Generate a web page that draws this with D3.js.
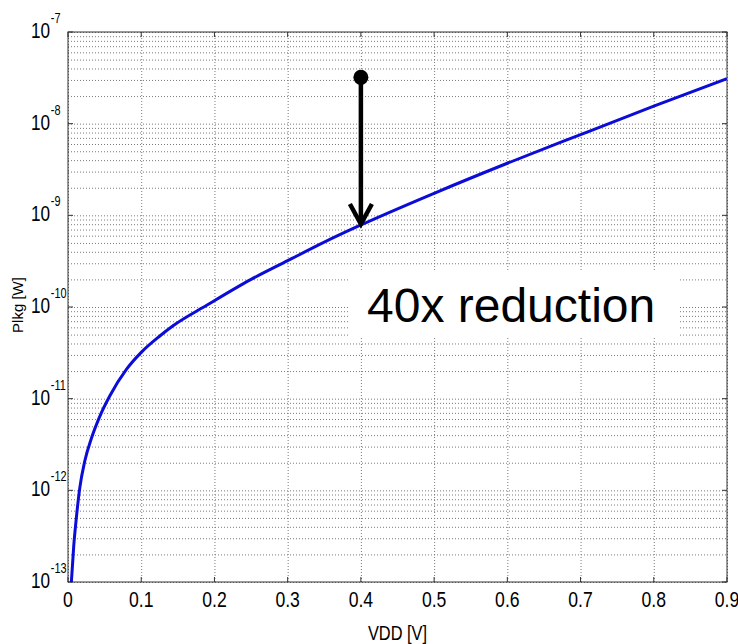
<!DOCTYPE html>
<html>
<head>
<meta charset="utf-8">
<script src="https://cdnjs.cloudflare.com/ajax/libs/d3/7.8.5/d3.min.js"></script>
<style>
	body { margin: 0; background: #fff; }
	svg { display: block; font-family: "Liberation Sans", Arial, sans-serif; }
	.grid line { stroke: #7a7a7a; stroke-dasharray: 1,2; }
	.grid path { display: none; }
</style>
</head>
<body>
<div id="graph"></div>
<script>
//leakage power against supply voltage
var vdd  = [0.0046, 0.0078, 0.0115, 0.016, 0.023, 0.032, 0.043, 0.057, 0.080, 0.100, 0.125, 0.143, 0.19, 0.25, 0.30, 0.35, 0.40, 0.50, 0.60, 0.70, 0.80, 0.90];
var plkg = [1.0e-13, 2.45e-13, 5.1e-13, 1.05e-12, 2.1e-12, 3.7e-12, 6.3e-12, 1.07e-11, 2.1e-11, 3.2e-11, 4.8e-11, 6.2e-11, 1.05e-10, 2.0e-10, 3.2e-10, 5.1e-10, 7.85e-10, 1.74e-9, 3.7e-9, 7.6e-9, 1.55e-8, 3.1e-8];

var xTicks = [0, 0.1, 0.2, 0.3, 0.4, 0.5, 0.6, 0.7, 0.8, 0.9];
var yExponents = [-7, -8, -9, -10, -11, -12, -13];

//the arrow drawn at 0.4 V
var arrowV = 0.4;
var arrowFrom = 3.2e-8;
var arrowTo = 7.85e-10;
var noteText = "40x reduction";

var xLabel = "VDD [V]";
var yLabel = "Plkg [W]";

(function(){
	"use strict";

	var margin = {top: 32, right: 11, bottom: 62, left: 68};
	var width = 738 - margin.left - margin.right;
	var height = 644 - margin.top - margin.bottom;

	var svg = d3.select("#graph").append("svg")
		.attr("width", 738)
		.attr("height", 644);
	var g = svg.append("g").attr("transform", "translate(" + margin.left + "," + margin.top + ")");

	var x = d3.scaleLinear().domain([0, 0.9]).range([0, width]);
	var y = d3.scaleLog().domain([1e-13, 1e-7]).range([height, 0]);

	//minor grid values, 2..9 times each decade
	var minor = [];
	yExponents.forEach(function(e) {
		if (e === -7) return;
		for (var m = 2; m < 10; m++) minor.push(m * Math.pow(10, e));
	});
	var decades = yExponents.map(function(e) { return Math.pow(10, e); });

	//dotted grid lines
	g.append("g").attr("class", "grid")
		.call(d3.axisLeft(y).tickValues(minor.concat(decades)).tickSize(-width).tickFormat(""));
	g.append("g").attr("class", "grid")
		.attr("transform", "translate(0," + height + ")")
		.call(d3.axisBottom(x).tickValues(xTicks).tickSize(-height).tickFormat(""));

	//box round the plot
	g.append("rect")
		.attr("width", width)
		.attr("height", height)
		.attr("fill", "none")
		.attr("stroke", "#333")
		.attr("stroke-width", 1);

	//inward tick marks on all four sides
	var tk = 5;
	xTicks.forEach(function(v) {
		g.append("line").attr("x1", x(v)).attr("x2", x(v)).attr("y1", height).attr("y2", height - tk).attr("stroke", "#333");
		g.append("line").attr("x1", x(v)).attr("x2", x(v)).attr("y1", 0).attr("y2", tk).attr("stroke", "#333");
	});
	decades.forEach(function(v) {
		g.append("line").attr("x1", 0).attr("x2", tk).attr("y1", y(v)).attr("y2", y(v)).attr("stroke", "#333");
		g.append("line").attr("x1", width).attr("x2", width - tk).attr("y1", y(v)).attr("y2", y(v)).attr("stroke", "#333");
	});

	//x tick labels, a bit narrow like the original
	xTicks.forEach(function(v) {
		g.append("g")
			.attr("transform", "translate(" + x(v) + "," + (height + 25) + ") scale(0.8,1)")
			.append("text")
			.attr("text-anchor", "middle")
			.attr("font-size", "22px")
			.attr("fill", "#000")
			.text(v === 0 ? "0" : d3.format(".1f")(v));
	});

	//y tick labels as 10 with superscript exponent
	yExponents.forEach(function(e) {
		var lab = g.append("g")
			.attr("transform", "translate(-18," + (y(Math.pow(10, e)) + 6) + ") scale(0.78,1)");
		lab.append("text")
			.attr("text-anchor", "end")
			.attr("font-size", "22px")
			.attr("fill", "#000")
			.text("10");
		lab.append("text")
			.attr("x", 1)
			.attr("y", -15)
			.attr("font-size", "14px")
			.attr("fill", "#000")
			.text(String(e));
	});

	//axis titles
	g.append("g")
		.attr("transform", "translate(" + (width / 2) + "," + (height + 58) + ") scale(0.78,1)")
		.append("text")
		.attr("text-anchor", "middle")
		.attr("font-size", "21px")
		.attr("fill", "#000")
		.text(xLabel);
	g.append("text")
		.attr("transform", "translate(-45," + (height / 2 - 2) + ") rotate(-90)")
		.attr("text-anchor", "middle")
		.attr("font-size", "15px")
		.attr("fill", "#000")
		.text(yLabel);

	//the curve
	svg.append("clipPath").attr("id", "clip")
		.append("rect").attr("width", width).attr("height", height);

	var line = d3.line()
		.x(function(d, i) { return x(vdd[i]); })
		.y(function(d) { return y(d); })
		.curve(d3.curveMonotoneX);

	g.append("path")
		.datum(plkg)
		.attr("clip-path", "url(#clip)")
		.attr("fill", "none")
		.attr("stroke", "#0c0cd8")
		.attr("stroke-width", 3)
		.attr("d", line);

	//arrow showing the reduction
	var ax = x(arrowV), y0 = y(arrowFrom), y1 = y(arrowTo);
	g.append("line")
		.attr("x1", ax).attr("x2", ax)
		.attr("y1", y0).attr("y2", y1 - 2)
		.attr("stroke", "#000")
		.attr("stroke-width", 4.5);
	g.append("circle")
		.attr("cx", ax).attr("cy", y0)
		.attr("r", 7.5)
		.attr("fill", "#000");
	g.append("polyline")
		.attr("points", [[ax - 11, y1 - 21], [ax, y1 - 1], [ax + 11, y1 - 21]].join(" "))
		.attr("fill", "none")
		.attr("stroke", "#000")
		.attr("stroke-width", 4.5)
		.attr("stroke-linejoin", "miter");

	//white note box with the label
	g.append("rect")
		.attr("x", 348 - margin.left)
		.attr("y", 270 - margin.top)
		.attr("width", 330)
		.attr("height", 68)
		.attr("fill", "#fff");
	g.append("text")
		.attr("x", 367 - margin.left)
		.attr("y", 322 - margin.top)
		.attr("font-size", "48px")
		.attr("fill", "#000")
		.text(noteText);
})();
</script>
</body>
</html>
